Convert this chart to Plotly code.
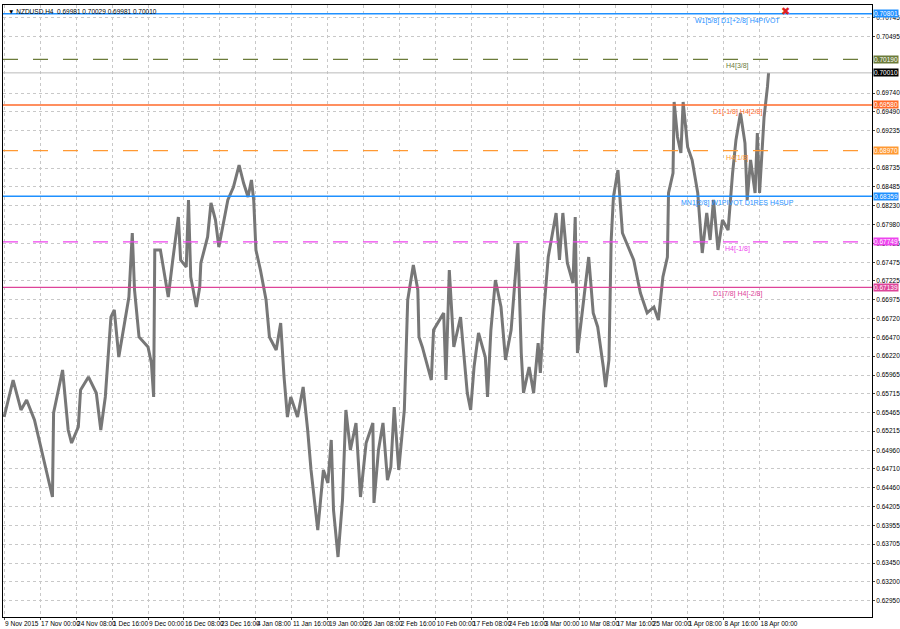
import plotly.graph_objects as go

# NZDUSD H4 price path (bar index, price)
bars = [0, 8, 15, 20, 27, 33, 43, 44, 52, 57, 60, 66, 68, 75, 82, 86, 90, 95, 98, 102,
        108, 111, 114, 116, 120, 128, 131, 133, 134, 139, 142, 146, 150, 155, 157, 162, 164, 166, 171, 174,
        175, 181, 184, 188, 191, 199, 204, 209, 213, 217, 220, 222, 224, 228, 233, 236, 242, 246, 249, 252,
        255, 261, 266, 270, 273, 276, 279, 284, 288, 291, 293, 297, 301, 304, 308, 313, 317, 322, 328, 329,
        333, 337, 341, 344, 347, 351, 356, 359, 364, 368, 369, 372, 380, 382, 387, 391, 393, 396, 400, 406,
        412, 415, 418, 422, 428, 430, 433, 437, 442, 446, 451, 457, 460, 462, 467, 471, 475, 477, 480, 484,
        491, 494, 497, 501, 506, 508, 510, 515, 520, 524, 528, 533, 535, 538, 540, 542, 546, 550, 555, 560,
        566, 572, 578, 582, 586, 590, 591, 595, 596, 599, 602, 604, 608, 612, 617, 621, 625, 628, 631, 635,
        639, 644, 648, 651, 655, 659, 661, 664, 668, 670, 672, 675, 676, 679, 680]
prices = [0.65405, 0.65900, 0.65499, 0.65633, 0.65365, 0.64964, 0.64335, 0.65459, 0.66034, 0.65231,
          0.65057, 0.65272, 0.65767, 0.65941, 0.65726, 0.65231, 0.65673, 0.66743, 0.66837, 0.66208,
          0.66743, 0.67011, 0.67867, 0.67105, 0.66476, 0.66342, 0.66128, 0.65673, 0.67640, 0.67640,
          0.67372, 0.67011, 0.67506, 0.68081, 0.67506, 0.67412, 0.68309, 0.67279, 0.66877, 0.67145,
          0.67466, 0.67814, 0.68269, 0.68041, 0.67680, 0.68309, 0.68483, 0.68777, 0.68536, 0.68349,
          0.68576, 0.68309, 0.67640, 0.67372, 0.66971, 0.66476, 0.66302, 0.66663, 0.65941, 0.65405,
          0.65673, 0.65405, 0.65807, 0.65231, 0.64696, 0.64295, 0.63893, 0.64696, 0.64522, 0.65098,
          0.64161, 0.63532, 0.64295, 0.65499, 0.64964, 0.65325, 0.64335, 0.65057, 0.65325, 0.64255,
          0.64964, 0.65325, 0.64562, 0.64736, 0.65539, 0.64696, 0.65499, 0.66971, 0.67439, 0.67105,
          0.66476, 0.66342, 0.65900, 0.66569, 0.66703, 0.66797, 0.65900, 0.67372, 0.66342, 0.66743,
          0.65726, 0.65499, 0.66074, 0.66529, 0.66208, 0.65673, 0.66569, 0.67238, 0.66877, 0.66168,
          0.66569, 0.67733, 0.66262, 0.65726, 0.66074, 0.65726, 0.66395, 0.65994, 0.66797, 0.67546,
          0.68135, 0.67506, 0.68135, 0.67466, 0.67198, 0.68081, 0.66262, 0.66877, 0.67546, 0.66797,
          0.66610, 0.66074, 0.65807, 0.66168, 0.67774, 0.68349, 0.68710, 0.67867, 0.67680, 0.67506,
          0.67064, 0.66797, 0.66877, 0.66703, 0.67279, 0.67546, 0.68402, 0.68670, 0.69620, 0.69152,
          0.68938, 0.69620, 0.69018, 0.68844, 0.68402, 0.67600, 0.68135, 0.67774, 0.68309, 0.67640,
          0.68041, 0.67907, 0.68670, 0.69112, 0.69473, 0.69071, 0.68309, 0.68844, 0.68402, 0.69205,
          0.68402, 0.69286, 0.69419, 0.69821, 0.70010]

tick_bars = [0, 32, 64, 96, 128, 160, 192, 224, 256, 288, 320, 352, 384, 416, 448, 480,
             512, 544, 576, 608, 640, 672]
tick_text = ["9 Nov 2015", "17 Nov 00:00", "24 Nov 08:00", "1 Dec 16:00", "9 Dec 00:00",
             "16 Dec 08:00", "23 Dec 16:00", "4 Jan 08:00", "11 Jan 16:00", "19 Jan 00:00",
             "26 Jan 08:00", "2 Feb 16:00", "10 Feb 00:00", "17 Feb 08:00", "24 Feb 16:00",
             "3 Mar 00:00", "10 Mar 08:00", "17 Mar 16:00", "25 Mar 00:00", "1 Apr 08:00",
             "8 Apr 16:00", "18 Apr 00:00"]
price_ticks = [0.70745, 0.70495, 0.69740, 0.69490, 0.69235, 0.68735, 0.68485, 0.68230,
               0.67980, 0.67725, 0.67475, 0.67225, 0.66975, 0.66720, 0.66470, 0.66220,
               0.65965, 0.65715, 0.65465, 0.65215, 0.64960, 0.64710, 0.64460, 0.64205,
               0.63955, 0.63705, 0.63450, 0.63200, 0.62950, 0.62700]

# pivot levels: price, colour, dash, label
levels = [
    (0.70801, "#1e90ff", "solid", "W1[5/8] D1[+2/8] H4PIVOT"),
    (0.70190, "#6b7b3a", "dash", "H4[3/8]"),
    (0.69580, "#ff6a2a", "solid", "D1[-1/8] H4[2/8]"),
    (0.68970, "#ff9933", "dash", "H4[1/8]"),
    (0.68359, "#1e90ff", "solid", "MN1[2/8] W1PIVOT D1RES H4SUP"),
    (0.67749, "#ee44ee", "dash", "H4[-1/8]"),
    (0.67139, "#dd4499", "solid", "D1[7/8] H4[-2/8]"),
]
last_price = 0.70010

fig = go.Figure()
fig.add_trace(go.Scatter(x=bars, y=prices, mode="lines",
                         line=dict(color="#777777", width=3), showlegend=False))

FAM = "Liberation Sans"
font = dict(family=FAM, size=6.5, color="#000000")

for p, col, dash, label in levels:
    fig.add_shape(type="line", xref="paper", x0=0, x1=1, y0=p, y1=p,
                  line=dict(color=col, width=1.3, dash="longdash" if dash == "dash" else "solid"))
    fig.add_annotation(x=652, y=p, text=label, showarrow=False, xanchor="center", yanchor="top",
                       font=dict(family=FAM, size=7, color=col), yshift=-1)
    fig.add_annotation(xref="paper", x=1.001, y=p, text=f"{p:.5f}", showarrow=False,
                       xanchor="left", bgcolor=col, font=dict(family=FAM, size=6.5, color="white"),
                       borderpad=0)

fig.add_shape(type="line", xref="paper", x0=0, x1=1, y0=last_price, y1=last_price,
              line=dict(color="#bbbbbb", width=1))
fig.add_annotation(xref="paper", x=1.001, y=last_price, text=f"{last_price:.5f}", showarrow=False,
                   xanchor="left", bgcolor="#000000", font=dict(family=FAM, size=6.5, color="white"),
                   borderpad=0)

# close marker of the indicator
fig.add_annotation(x=695, y=0.70801, text="✖", showarrow=False, yshift=2,
                   font=dict(family="DejaVu Sans", size=11, color="#e02020"))

fig.add_annotation(xref="paper", yref="paper", x=0.003, y=0.998, xanchor="left", yanchor="top",
                   text="▼ NZDUSD,H4  0.69981 0.70029 0.69981 0.70010", showarrow=False, font=font)

fig.update_xaxes(range=[-1, 772], tickvals=tick_bars, ticktext=tick_text, tickangle=0,
                 ticklabelposition="outside right",
                 showgrid=True, gridcolor="#c8c8c8", griddash="dot", zeroline=False, automargin=False,
                 showline=True, linecolor="#000000", mirror=True, ticks="outside", ticklen=2,
                 tickfont=font)
fig.update_yaxes(range=[0.62729, 0.70918], side="right", tickvals=price_ticks,
                 ticktext=[f"{t:.5f}" for t in price_ticks], automargin=False,
                 showgrid=True, gridcolor="#c8c8c8", griddash="dot", zeroline=False,
                 showline=True, linecolor="#000000", mirror=True, ticks="outside", ticklen=2,
                 tickfont=font)
fig.update_layout(width=900, height=629, plot_bgcolor="white", paper_bgcolor="white",
                  margin=dict(l=3, r=28, t=5, b=12, autoexpand=False), showlegend=False)

fig.write_html("out.html", config={"displayModeBar": False},
               post_script="document.body.style.margin='0';document.body.style.overflow='hidden';")
